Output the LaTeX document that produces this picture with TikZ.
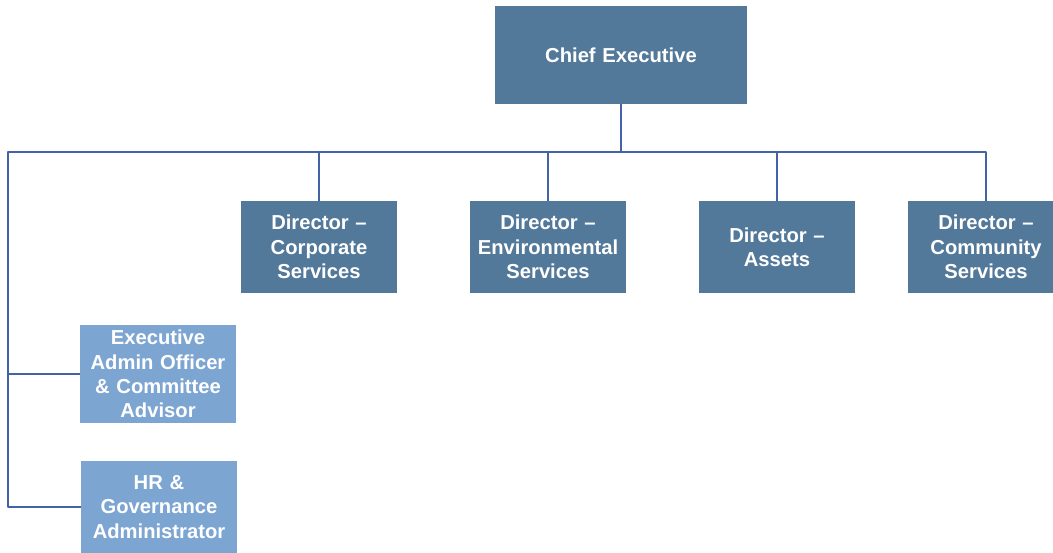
\documentclass[tikz,border=0pt]{standalone}
\usepackage{fontspec}
\setmainfont{Liberation Sans}
\usetikzlibrary{positioning}
\definecolor{boxdark}{HTML}{53799A}
\definecolor{boxlight}{HTML}{7DA5D2}
\definecolor{linkblue}{HTML}{4463A6}

\begin{document}
\begin{tikzpicture}[x=0.02cm, y=-0.02cm, line cap=round, line join=round,
	font=\fontsize{11.5}{13.9}\selectfont\bfseries,
	post/.style={fill=boxdark, text=white, align=center, inner sep=0pt,
		minimum width=3.12cm, minimum height=1.84cm, text width=2.95cm},
	assist/.style={post, fill=boxlight, minimum height=1.98cm, text width=3.05cm},
	link/.style={linkblue, line width=0.7pt}]

\useasboundingbox (0,0) rectangle (1053,553);

% ==== Top: chief executive ====
\node[post, minimum width=5.04cm, minimum height=1.96cm, text width=4.8cm] (ce) at (621,55) {Chief Executive};
\coordinate (bus) at (8,152);

% ==== Directors ====
\node[post] (dcorp) at (319,247) {Director --\\Corporate\\Services};
\node[post] (denv)  at (548,247) {Director --\\Environmental\\Services};
\node[post] (dass)  at (777,247) {Director --\\Assets};
\node[post] (dcom)  at (986,247) {Director --\\Community\\Services};

% ==== Left: support staff ====
\node[assist] (eao) at (158,374) {Executive\\Admin Officer\\\& Committee\\Advisor};
\node[assist, minimum height=1.84cm] (hr) at (159,507) {HR \&\\Governance\\Administrator};

% connectors
\draw[link] (ce.south) -- (ce.south |- bus);
\draw[link] (hr.west) -| (bus) -| (dcom.north);
\draw[link] (eao.west) -- (eao.west -| bus);
\foreach \d in {dcorp, denv, dass}
	\draw[link] (\d.north) -- (\d.north |- bus);

\end{tikzpicture}
\end{document}
